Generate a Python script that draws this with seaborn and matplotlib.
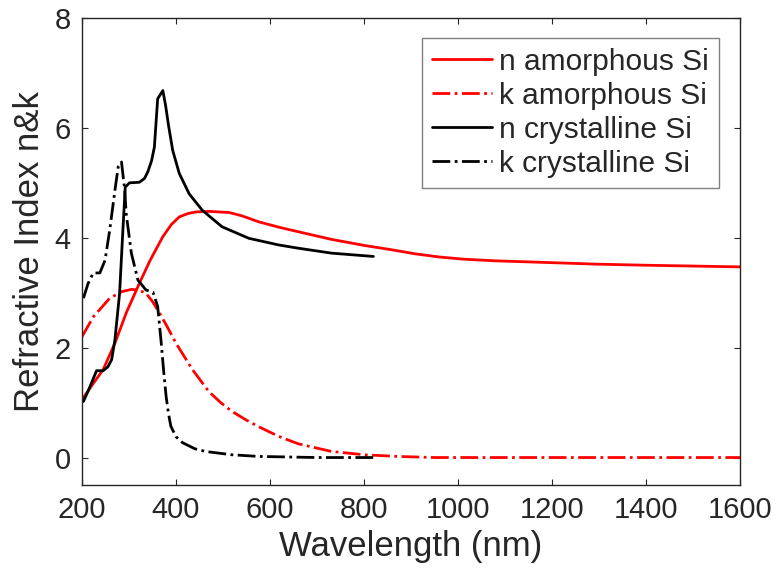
import matplotlib
matplotlib.use("Agg")
import matplotlib.pyplot as plt
import seaborn as sns
import pandas as pd

# n, amorphous Si
wl_n_am = [200, 220, 245, 270, 294, 322, 345, 372, 390, 407, 425, 442, 470, 513, 540, 576, 620, 660, 731, 801, 860, 907, 960, 1012, 1080, 1153, 1294, 1400, 1600]
n_am = [1.05, 1.30, 1.60, 2.08, 2.63, 3.17, 3.59, 4.02, 4.24, 4.38, 4.44, 4.47, 4.48, 4.46, 4.40, 4.29, 4.19, 4.11, 3.97, 3.86, 3.78, 3.71, 3.65, 3.61, 3.58, 3.56, 3.52, 3.50, 3.47]

# k, amorphous Si
wl_k_am = [200, 224, 259, 285, 305, 320, 336, 350, 365, 382, 400, 435, 470, 495, 519, 550, 576, 620, 660, 731, 801, 871, 950, 1100, 1300, 1600]
k_am = [2.20, 2.56, 2.90, 3.02, 3.06, 3.05, 2.99, 2.84, 2.63, 2.37, 2.08, 1.60, 1.20, 1.00, 0.84, 0.68, 0.56, 0.38, 0.25, 0.11, 0.05, 0.02, 0.0, 0.0, 0.0, 0.0]

# n, crystalline Si
wl_n_cr = [203, 215, 231, 245, 255, 263, 270, 280, 287, 292, 301, 322, 333, 340, 348, 354, 361, 372, 378, 384, 393, 407, 428, 456, 498, 555, 618, 660, 731, 820]
n_cr = [1.02, 1.25, 1.58, 1.58, 1.65, 1.78, 2.14, 2.99, 4.14, 4.92, 5.00, 5.01, 5.08, 5.20, 5.40, 5.65, 6.53, 6.68, 6.40, 6.05, 5.59, 5.17, 4.80, 4.50, 4.20, 3.99, 3.87, 3.81, 3.72, 3.66]

# k, crystalline Si
wl_k_cr = [203, 213, 224, 238, 249, 259, 270, 277, 284, 291, 294, 305, 319, 336, 351, 361, 368, 374, 379, 384, 389, 400, 414, 440, 463, 519, 576, 700, 820]
k_cr = [2.90, 3.17, 3.36, 3.36, 3.59, 4.14, 4.86, 5.29, 5.38, 4.86, 4.44, 3.72, 3.23, 3.05, 3.01, 2.75, 2.14, 1.55, 1.11, 0.80, 0.57, 0.38, 0.27, 0.16, 0.11, 0.05, 0.02, 0.0, 0.0]

labels = ["n amorphous Si", "k amorphous Si", "n crystalline Si", "k crystalline Si"]
xticks = [200, 400, 600, 800, 1000, 1200, 1400, 1600]
yticks = [0, 2, 4, 6, 8]

sns.set_style("ticks")
plt.rcParams["font.family"] = ["Liberation Sans", "DejaVu Sans"]
txt = "#262626"

fig = plt.figure(figsize=(7.77, 5.77), dpi=100)
ax = fig.add_axes([82 / 777, 92 / 577, 658 / 777, 467 / 577])

series = [
    (wl_n_am, n_am, "#ff0000", "-"),
    (wl_k_am, k_am, "#ff0000", "-."),
    (wl_n_cr, n_cr, "black", "-"),
    (wl_k_cr, k_cr, "black", "-."),
]
for (x, y, c, ls), lab in zip(series, labels):
    df = pd.DataFrame({"wl": x, "v": y})
    sns.lineplot(data=df, x="wl", y="v", color=c, linestyle=ls, lw=2.0, label=lab, ax=ax, sort=False)

ax.set_xlim(200, 1600)
ax.set_ylim(-0.5, 8)
ax.set_xticks(xticks)
ax.set_yticks(yticks)
ax.tick_params(direction="in", length=4, width=0.8, colors=txt, labelsize=21,
               top=True, right=True, labelcolor=txt, pad=8)
for s in ax.spines.values():
    s.set_color(txt)
    s.set_linewidth(1.0)
ax.set_xlabel("Wavelength (nm)", fontsize=25, color=txt, labelpad=4)
ax.set_ylabel("Refractive Index n&k", fontsize=25, color=txt, labelpad=6)

leg = ax.legend(loc="upper right", bbox_to_anchor=(719 / 777, 1 - 38 / 577), bbox_transform=fig.transFigure,
                borderaxespad=0, fontsize=21.5, frameon=True, fancybox=False, framealpha=1,
                edgecolor="#808080", handlelength=2.0, handletextpad=0.25, labelspacing=0.2,
                borderpad=0.33)
leg.get_frame().set_linewidth(1.0)

fig.savefig("out.png", dpi=100)
